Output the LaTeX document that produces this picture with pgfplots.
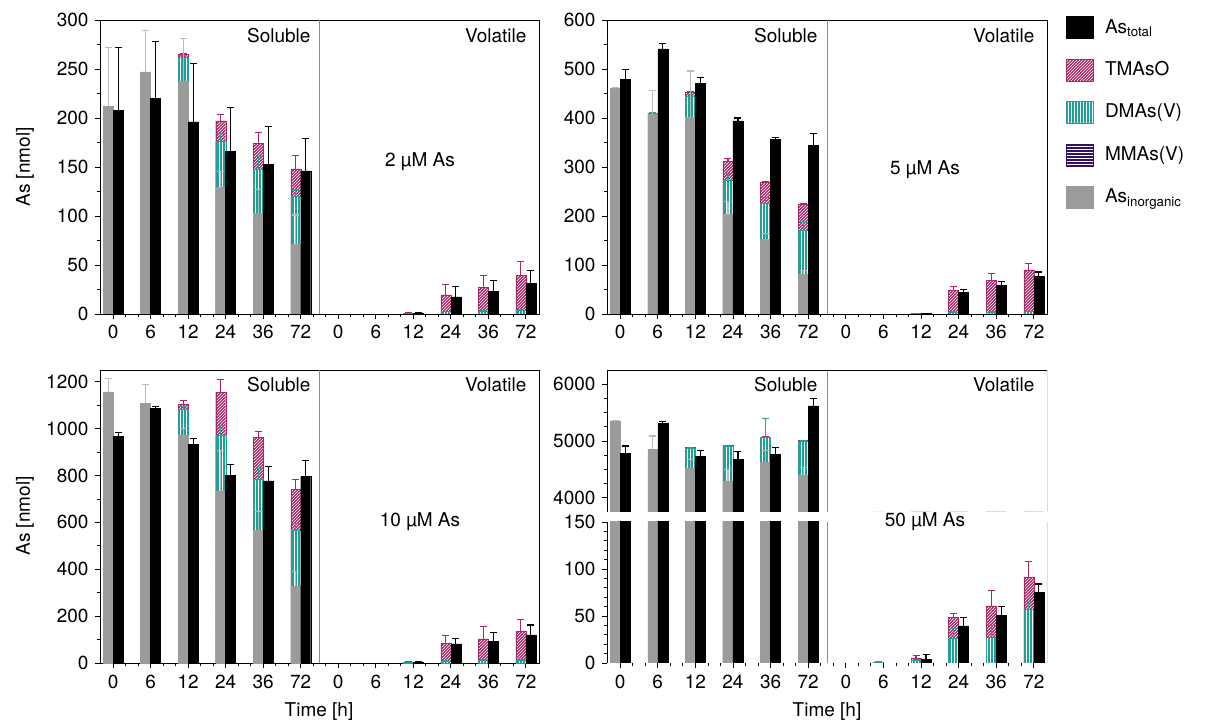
\documentclass[border=0pt]{standalone}
\usepackage{fontspec}
\setmainfont{TeX Gyre Heros}
\usepackage{pgfplots}
\pgfplotsset{compat=1.18}
\usepackage{pgfplotstable}
\usetikzlibrary{patterns}

\definecolor{asgray}{RGB}{155,155,155}
\definecolor{asgraylt}{RGB}{185,185,185}
\definecolor{divgray}{RGB}{140,140,140}
\definecolor{dmateal}{RGB}{36,158,152}
\definecolor{tmamag}{RGB}{168,40,104}
\definecolor{mmapurp}{RGB}{52,16,100}

% columns: group, tops of the stacked segments (cumulative) and their upper errors
\pgfplotstableread{
k  inorg ie  dma  de   tma  te   tot  toe
0  212   60  nan  0    nan  0    208  64
1  247   42  nan  0    nan  0    220  58
2  238   43  262  2    265  1    196  60
3  129   16  176  8.5  197  7    166  45
4  103   24  148  13   174  11   153  38
5  71    30  120  6.5  148  14   146  33
8  nan   0   0.5  0.3  1    0.3  1    0.3
9  nan   0   2.5  0.5  19.5 10.5 17.5 10.5
10 nan   0   3    1    27   12   23   11
11 nan   0   4    1    39.5 14.5 31   13.5
}\tabA
\pgfplotstableread{
k  inorg ie  dma  de   tma  te   tot  toe
0  461   1   nan  0    nan  0    479  20
1  408   48  410  1    nan  0    541  11
2  401   95  445  3    452  2    471  11
3  203   26  273  14   311  6    394  6
4  152   12  227  11   269  2    357  4
5  81    7   171  16   224  2    344  24
8  nan   0   0.5  0.3  1    0.3  1    0.3
9  nan   0   4    1    47.6 8.2  43.5 6.8
10 nan   0   4    1    68   15   59   7.7
11 nan   0   5    1    90   13.4 77.5 8.2
}\tabB
\pgfplotstableread{
k  inorg ie  dma  de   tma  te   tot  toe
0  1157  57  nan  0    nan  0    968  15
1  1108  79  nan  0    nan  0    1086 10
2  970   30  1084 10   1106 14   934  25
3  734   172 970  45   1156 54   801  44
4  567   79  785  44   963  23   777  61
5  329   60  568  26   742  42   795  68
8  nan   0   2    1    5    2    4    2
9  nan   0   8    3    85   33   82   23
10 nan   0   10   3    103  52   92   40
11 nan   0   12   3    135  50   120  42
}\tabC
\pgfplotstableread{
k  inorg ie  dma  de   tma  te   tot  toe
0  5354  0   nan  0    nan  0    4782 130
1  4853  235 nan  0    nan  0    5313 29
2  4517  159 4881 9    4890 2    4735 93
3  4292  212 4912 8    4920 2    4681 136
4  4628  207 5059 330  5070 5    4770 118
5  4393  142 4994 10   5010 5    5619 124
7  nan   0   1    0.3  nan  0    nan  0
8  nan   0   3    1    4.6  3.4  4    4.8
9  nan   0   26   10.7 48.7 4.3  39.4 9.3
10 nan   0   27   12.5 60.7 16.3 51   9
11 nan   0   57   8.6  91   16.7 75   9
}\tabD

\pgfplotsset{
  panel/.style={
    scale only axis, anchor=south west,
    xmin=-0.35, xmax=11.35,
    xtick={0,...,11},
    xticklabels={0,6,12,24,36,72,0,6,12,24,36,72},
    minor x tick num=2,
    tick align=outside, tick pos=left,
    major tick length=5pt, minor tick length=3pt,
    axis line style={line width=0.8pt},
    every tick/.style={black, line width=0.8pt},
    /pgf/number format/1000 sep={},
    /pgf/number format/assume math mode=true,
  },
  errs/.style={error bars/.cd, y dir=plus, y explicit, error mark=-,
    error bar style={draw=#1, line width=1.1pt, solid},
    error mark options={rotate=90, draw=#1, line width=1.1pt, mark size=3.5pt, solid}},
  tmabar/.style={ybar, bar width=10pt, bar shift=0pt, forget plot,
    fill=tmamag, draw=tmamag, postaction={pattern=north east lines, pattern color=white},
    errs=tmamag},
  dmabar/.style={ybar, bar width=10pt, bar shift=0pt, forget plot,
    fill=dmateal, draw=dmateal, postaction={pattern=vertical lines, pattern color=white},
    errs=dmateal},
  inorgbar/.style={ybar, bar width=10pt, bar shift=0pt, forget plot,
    fill=asgray, draw=asgray, errs=asgraylt},
  totbar/.style={ybar, bar width=10pt, bar shift=0pt, forget plot,
    fill=black, draw=black, errs=black},
}

% left column of each pair is the stack, right column is the total
\newcommand{\bars}[1]{%
  \addplot[tmabar] table[x expr=\thisrow{k}-0.133, y=tma, y error=te] {#1};
  \addplot[dmabar] table[x expr=\thisrow{k}-0.133, y=dma, y error=de] {#1};
  \addplot[inorgbar] table[x expr=\thisrow{k}-0.133, y=inorg, y error=ie] {#1};
  \addplot[totbar] table[x expr=\thisrow{k}+0.133, y=tot, y error=toe] {#1};
  \draw[divgray, line width=0.8pt] ({axis cs:5.5,0}|-{rel axis cs:0,0}) -- ({axis cs:5.5,0}|-{rel axis cs:0,1});
}

\begin{document}
\fontsize{19}{23}\selectfont
\begin{tikzpicture}
\useasboundingbox (0,0) rectangle (1205pt,726pt);

% 2 uM
\begin{axis}[panel, at={(100pt,412pt)}, width=439pt, height=294pt,
  ymin=0, ymax=300, ytick={0,50,...,300}, minor y tick num=1]
\bars{\tabA}
\end{axis}

% 5 uM
\begin{axis}[panel, at={(607pt,412pt)}, width=440pt, height=294pt,
  ymin=0, ymax=600, ytick={0,100,...,600}, minor y tick num=1,
  legend style={at={(1.035,1.02)}, anchor=north west, draw=none, fill=none,
    cells={anchor=west}, row sep=20pt,
    /tikz/every odd column/.append style={column sep=10pt}},
  legend image code/.code={\path[#1] (0pt,-11pt) rectangle (27pt,11pt);}]
\addlegendimage{fill=black, draw=black}
\addlegendentry{As\textsubscript{total}}
\addlegendimage{fill=tmamag, draw=tmamag, postaction={pattern=north east lines, pattern color=white}}
\addlegendentry{TMAsO}
\addlegendimage{fill=dmateal, draw=dmateal, postaction={pattern=vertical lines, pattern color=white}}
\addlegendentry{DMAs(V)}
\addlegendimage{fill=mmapurp, draw=mmapurp, postaction={pattern=horizontal lines, pattern color=white}}
\addlegendentry{MMAs(V)}
\addlegendimage{fill=asgray, draw=asgray}
\addlegendentry{As\textsubscript{inorganic}}
\bars{\tabB}
\end{axis}

% 10 uM
\begin{axis}[panel, at={(100pt,63pt)}, width=439pt, height=293pt,
  ymin=0, ymax=1250, ytick={0,200,...,1200}, minor y tick num=1]
\bars{\tabC}
\end{axis}

% 50 uM, upper part of the broken axis (no bottom spine)
\begin{axis}[panel, at={(607pt,214pt)}, width=440pt, height=142pt,
  ymin=3750, ymax=6250, ytick={4000,5000,6000}, minor y tick num=3,
  xtick=\empty, minor x tick num=0, axis line style={draw=none}]
\bars{\tabD}
\draw[line width=0.8pt] (rel axis cs:0,0) -- (rel axis cs:0,1) -- (rel axis cs:1,1) -- (rel axis cs:1,0);
\end{axis}

% 50 uM, lower part (no top spine)
\begin{axis}[panel, at={(607pt,63pt)}, width=440pt, height=141pt,
  ymin=0, ymax=150, ytick={0,50,100,150}, minor y tick num=4,
  axis line style={draw=none}]
\bars{\tabD}
\draw[line width=0.8pt] (rel axis cs:0,1) -- (rel axis cs:0,0) -- (rel axis cs:1,0) -- (rel axis cs:1,1);
\end{axis}

\node[anchor=base east] at (317pt,683pt) {Soluble};
\node[anchor=base east] at (533pt,683pt) {Volatile};
\node[anchor=base east] at (824pt,683pt) {Soluble};
\node[anchor=base east] at (1041pt,683pt) {Volatile};
\node[anchor=base east] at (317pt,334pt) {Soluble};
\node[anchor=base east] at (533pt,334pt) {Volatile};
\node[anchor=base east] at (824pt,334pt) {Soluble};
\node[anchor=base east] at (1041pt,334pt) {Volatile};

\node[anchor=base] at (420pt,559pt) {2 µM As};
\node[anchor=base] at (925pt,551pt) {5 µM As};
\node[anchor=base] at (420pt,199pt) {10 µM As};
\node[anchor=base] at (925pt,199pt) {50 µM As};

\node[rotate=90] at (25pt,559pt) {As [nmol]};
\node[rotate=90] at (25pt,210pt) {As [nmol]};
\node at (319pt,14pt) {Time [h]};
\node at (827pt,14pt) {Time [h]};
\end{tikzpicture}
\end{document}
